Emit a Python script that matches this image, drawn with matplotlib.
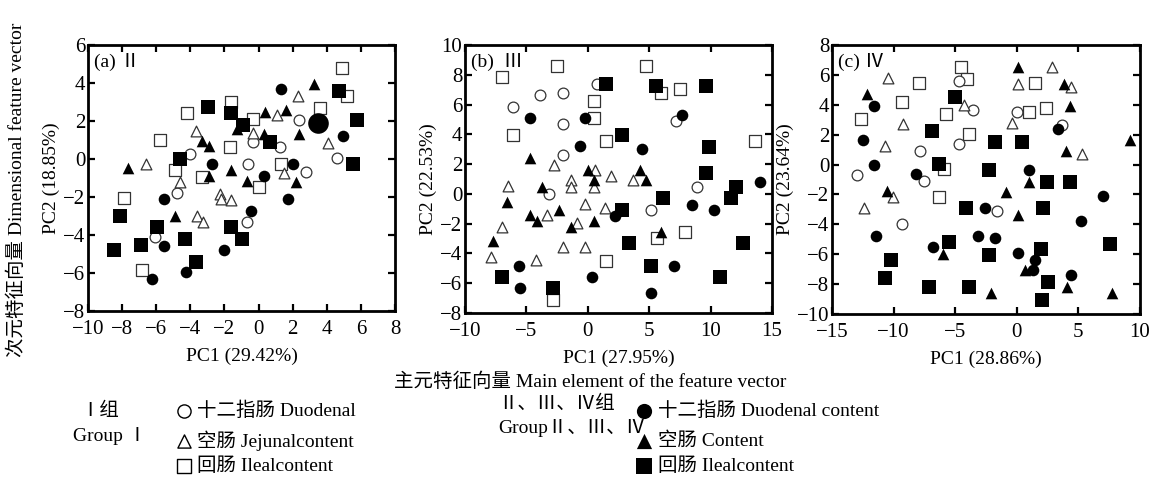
import numpy as np
import matplotlib
matplotlib.use("Agg")
import matplotlib.pyplot as plt

plt.rcParams['font.family'] = ['Liberation Serif', 'Noto Sans CJK SC', 'DejaVu Sans']
plt.rcParams['axes.unicode_minus'] = True

# ---- data: panel (a) group II ----
a_open_sq = [(4.9, 4.8), (5.2, 3.3), (3.6, 2.7), (-1.6, 3.0), (-4.2, 2.4), (-0.3, 2.1), (-5.8, 1.0),
             (-1.65, 0.64), (-4.9, -0.6), (-3.3, -0.94), (1.3, -0.28), (0.0, -1.48), (-7.9, -2.05), (-6.85, -5.85)]
a_open_ci = [(-4.0, 0.25), (-0.33, 0.92), (-0.62, -0.25), (1.26, 0.64), (2.4, 2.05), (2.8, -0.67),
             (4.6, 0.05), (-4.8, -1.78), (-0.66, -3.29), (-6.1, -4.08)]
a_open_tr = [(-6.6, -0.28), (-3.65, 1.48), (-4.6, -1.2), (-2.25, -1.82), (-2.23, -2.08), (-1.6, -2.14),
             (-3.6, -3.0), (-3.26, -3.34), (-0.3, 1.36), (1.1, 2.31), (2.3, 3.3), (1.5, -0.72), (4.1, 0.83)]
a_fill_ci = [(1.34, 3.67), (4.94, 1.22), (2.0, -0.25), (1.7, -2.08), (0.3, -0.9), (-2.73, -0.25),
             (-0.43, -2.76), (-5.55, -2.08), (-5.55, -4.58), (-2.0, -4.79), (-4.24, -5.97), (-6.27, -6.33)]
a_big_ci = [(3.5, 1.9)]
a_fill_tr = [(3.26, 3.96), (1.63, 2.6), (0.36, 2.47), (-1.29, 1.59), (0.32, 1.31), (2.39, 1.29),
             (-3.32, 0.95), (-2.9, 0.67), (-1.61, -0.58), (-2.92, -0.87), (-0.66, -1.17), (2.22, -1.2),
             (-7.65, -0.46), (-4.89, -2.99)]
a_fill_sq = [(4.73, 3.57), (5.75, 2.05), (5.54, -0.28), (-0.9, 1.8), (-1.61, 2.42), (-2.96, 2.74),
             (0.69, 0.9), (-4.61, 0.02), (-8.15, -2.99), (-5.93, -3.6), (-1.6, -3.6), (-0.96, -4.2),
             (-4.32, -4.2), (-6.91, -4.52), (-8.48, -4.79), (-3.65, -5.41)]

# ---- data: panel (b) group III ----
b_open_sq = [(-7.0, 7.85), (-2.54, 8.57), (4.7, 8.57), (0.49, 6.23), (0.49, 5.11), (6.0, 6.79), (7.5, 7.02),
             (-6.07, 3.97), (1.45, 3.54), (13.6, 3.54), (7.9, -2.58), (5.66, -2.96), (1.45, -4.48), (-2.8, -7.13)]
b_open_ci = [(-6.07, 5.83), (-3.88, 6.61), (-2.0, 6.79), (0.77, 7.4), (-2.0, 4.71), (7.2, 4.89),
             (-2.0, 2.58), (-3.14, 0.0), (8.88, 0.49), (5.14, -1.05)]
b_open_tr = [(-6.5, 0.52), (-2.79, 1.97), (-1.37, 0.9), (-1.37, 0.49), (0.55, 1.61), (0.49, 0.45),
             (1.91, 1.23), (3.69, 0.9), (-0.19, -0.67), (1.37, -0.94), (-0.9, -1.95), (-3.33, -1.41),
             (-7.0, -2.2), (-2.05, -3.54), (-0.19, -3.59), (-4.23, -4.44), (-7.92, -4.22)]
b_fill_ci = [(-4.7, 5.09), (-0.19, 5.11), (7.7, 5.31), (-0.63, 3.21), (4.43, 3.03), (2.19, -1.5),
             (8.47, -0.72), (10.3, -1.05), (14.0, 0.78), (-5.6, -4.87), (-5.52, -6.32), (0.33, -5.61),
             (7.02, -4.87), (5.14, -6.68)]
b_fill_tr = [(-4.73, 2.4), (-6.61, -0.56), (-7.73, -3.14), (-3.74, 0.49), (-4.73, -1.41), (-4.15, -1.84),
             (-2.32, -1.05), (-1.37, -2.2), (0.0, 1.61), (0.49, 0.9), (0.49, -1.79), (4.23, 1.61),
             (4.7, 0.9), (5.93, -2.53)]
b_fill_sq = [(1.5, 7.35), (5.55, 7.22), (9.62, 7.24), (2.81, 3.97), (9.84, 3.18), (9.62, 1.41),
             (6.09, -0.29), (2.81, -1.05), (12.1, 0.49), (11.69, -0.29), (12.65, -3.32), (3.33, -3.32),
             (5.14, -4.87), (10.79, -5.61), (-7.0, -5.61), (-2.87, -6.35)]

# ---- data: panel (c) group IV ----
c_open_sq = [(-12.65, 3.05), (-9.32, 4.16), (-7.92, 5.49), (-4.54, 6.55), (-4.04, 5.71), (-5.77, 3.38),
             (-3.85, 2.06), (-5.87, -0.27), (-6.28, -2.15), (1.0, 3.54), (1.5, 5.44), (2.38, 3.78)]
c_open_ci = [(-13.0, -0.71), (-7.87, 0.88), (-7.54, -1.11), (-9.32, -3.98), (-4.67, 5.6), (-3.58, 3.67),
             (-4.67, 1.39), (0.05, 3.54), (3.66, 2.68), (-1.64, -3.08)]
c_open_tr = [(-10.46, 5.82), (-9.23, 2.72), (-10.66, 1.24), (-12.38, -2.92), (-10.05, -2.15), (-4.32, 3.98),
             (0.11, 5.38), (-0.36, 2.77), (2.87, 6.53), (4.43, 5.22), (5.33, 0.73)]
c_fill_ci = [(-11.61, 3.89), (-12.51, 1.62), (-11.56, 0.0), (-8.2, -0.64), (-11.42, -4.8), (-6.78, -5.53),
             (-3.14, -4.8), (-2.6, -2.92), (-1.78, -4.91), (0.11, -5.91), (1.0, -0.38), (3.33, 2.39),
             (6.97, -2.1), (5.25, -3.76), (1.28, -7.06), (1.5, -6.39), (4.37, -7.41)]
c_fill_tr = [(-12.16, 4.71), (-10.55, -1.77), (-5.96, -5.97), (-2.08, -8.61), (0.11, 6.53), (-0.85, -1.81),
             (0.11, -3.36), (1.0, -1.15), (0.68, -7.06), (3.83, 5.38), (4.29, 3.89), (3.96, 0.88),
             (4.07, -8.16), (9.15, 1.62), (7.7, -8.61)]
c_fill_sq = [(-5.05, 4.54), (-6.91, 2.23), (-6.28, 0.07), (-1.78, 1.5), (0.41, 1.5), (-2.27, -0.38),
             (2.43, -1.15), (4.29, -1.15), (-4.1, -2.92), (2.1, -2.92), (-5.49, -5.2), (-2.27, -6.08),
             (1.97, -5.64), (-10.19, -6.39), (-10.66, -7.57), (-7.13, -8.19), (-3.85, -8.19), (2.51, -7.83),
             (2.05, -9.07), (7.57, -5.31)]

panels = [
    dict(pos=[88/1163, 1-311/480, 307/1163, 266/480], xlim=(-10, 8), ylim=(-8, 6),
         xt=np.arange(-10, 9, 2), yt=np.arange(-8, 7, 2), tag="(a) Ⅱ",
         xl="PC1 (29.42%)", yl="PC2 (18.85%)",
         osq=a_open_sq, oci=a_open_ci, otr=a_open_tr, fci=a_fill_ci, ftr=a_fill_tr, fsq=a_fill_sq, big=a_big_ci),
    dict(pos=[465/1163, 1-313/480, 307/1163, 268/480], xlim=(-10, 15), ylim=(-8, 10),
         xt=np.arange(-10, 16, 5), yt=np.arange(-8, 11, 2), tag="(b)  Ⅲ",
         xl="PC1 (27.95%)", yl="PC2 (22.53%)",
         osq=b_open_sq, oci=b_open_ci, otr=b_open_tr, fci=b_fill_ci, ftr=b_fill_tr, fsq=b_fill_sq, big=[]),
    dict(pos=[832/1163, 1-314/480, 308/1163, 269/480], xlim=(-15, 10), ylim=(-10, 8),
         xt=np.arange(-15, 11, 5), yt=np.arange(-10, 9, 2), tag="(c) Ⅳ",
         xl="PC1 (28.86%)", yl="PC2 (23.64%)",
         osq=c_open_sq, oci=c_open_ci, otr=c_open_tr, fci=c_fill_ci, ftr=c_fill_tr, fsq=c_fill_sq, big=[]),
]

fig = plt.figure(figsize=(11.63, 4.8), dpi=100)

def pts(lst):
    arr = np.array(lst, dtype=float).reshape(-1, 2)
    return arr[:, 0], arr[:, 1]

for p in panels:
    ax = fig.add_axes(p["pos"])
    for key, m, s in [("osq", "s", 70), ("oci", "o", 60), ("otr", "^", 60)]:
        x, y = pts(p[key])
        ax.scatter(x, y, marker=m, s=s, facecolors="white", edgecolors="#333333", linewidths=0.9, zorder=2)
    for key, m, s in [("fsq", "s", 90), ("fci", "o", 70), ("ftr", "^", 70)]:
        x, y = pts(p[key])
        ax.scatter(x, y, marker=m, s=s, color="black", linewidths=0, zorder=3)
    if p["big"]:
        x, y = pts(p["big"])
        ax.scatter(x, y, marker="o", s=220, color="black", linewidths=0, zorder=3)
    ax.set_xlim(*p["xlim"])
    ax.set_ylim(*p["ylim"])
    ax.set_xticks(p["xt"])
    ax.set_yticks(p["yt"])
    ax.tick_params(direction="in", top=True, right=True, length=5, width=1.6, labelsize=15)
    ax.tick_params(axis="x", pad=6.5)
    ax.tick_params(axis="y", pad=2)
    for sp in ax.spines.values():
        sp.set_linewidth(2.0)
    ax.text(0.02, 0.97, p["tag"], transform=ax.transAxes, ha="left", va="top", fontsize=14)
    ax.set_xlabel(p["xl"], fontsize=14, labelpad=6)
    ax.set_ylabel(p["yl"], fontsize=14, labelpad=2)

fig.text(17/1163, 1-190/480, "次元特征向量 Dimensional feature vector", rotation=90,
         ha="center", va="center", fontsize=14)
fig.text(590/1163, 1-382/480, "主元特征向量 Main element of the feature vector",
         ha="center", va="center", fontsize=14)

# legend block
fs = 14
fig.text(100/1163, 1-411/480, "Ⅰ组", ha="center", va="center", fontsize=fs)
fig.text(110/1163, 1-436/480, "Group Ⅰ", ha="center", va="center", fontsize=fs)
left_items = [("o", "十二指肠 Duodenal", 411), ("^", "空肠 Jejunalcontent", 441), ("s", "回肠 Ilealcontent", 466)]
right_items = [("o", "十二指肠 Duodenal content", 411), ("^", "空肠 Content", 441), ("s", "回肠 Ilealcontent", 466)]
lax = fig.add_axes([0, 0, 1, 1], zorder=-1)
lax.set_xlim(0, 1163)
lax.set_ylim(480, 0)
lax.axis("off")
for m, t, yy in left_items:
    lax.scatter([184], [yy], marker=m, s=90, facecolors="white", edgecolors="black", linewidths=1.0)
    lax.text(197, yy, t, ha="left", va="center", fontsize=fs)
fig.text(557/1163, 1-404/480, "Ⅱ、Ⅲ、Ⅳ组", ha="center", va="center", fontsize=fs)
fig.text(572/1163, 1-428/480, "GroupⅡ、Ⅲ、Ⅳ", ha="center", va="center", fontsize=fs)
for m, t, yy in right_items:
    lax.scatter([644], [yy], marker=m, s=120, color="black", linewidths=0)
    lax.text(658, yy, t, ha="left", va="center", fontsize=fs)

fig.savefig("out.png", dpi=100)
